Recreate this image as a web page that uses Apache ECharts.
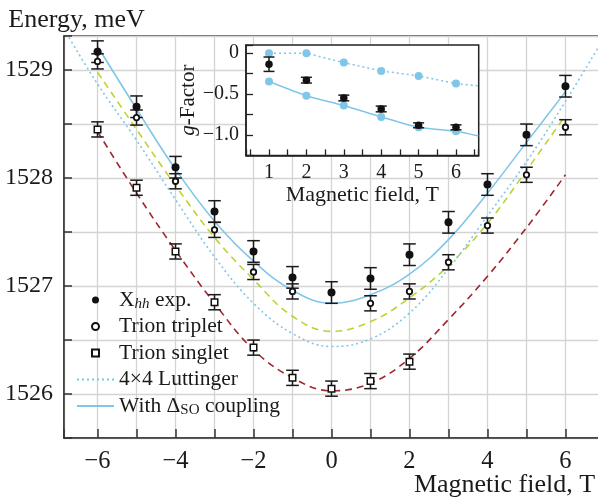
<!DOCTYPE html>
<html>
<head>
<meta charset="utf-8">
<script src="https://cdn.jsdelivr.net/npm/echarts@6/dist/echarts.min.js"></script>
<style>html,body{margin:0;padding:0;background:#fff}#c{width:598px;height:504px}</style>
</head>
<body>
<div id="c"></div>
<script>
// ---- Data ----
const fieldX = [-6, -5, -4, -3, -2, -1, 0, 1, 2, 3, 4, 5, 6];
const xhhE = [1529.17, 1528.66, 1528.10, 1527.69, 1527.32, 1527.08, 1526.94, 1527.07, 1527.29, 1527.59, 1527.94, 1528.40, 1528.85];
const xhhErr = [0.1, 0.1, 0.1, 0.1, 0.1, 0.1, 0.1, 0.1, 0.1, 0.1, 0.1, 0.1, 0.1];

const tripX = [-6, -5, -4, -3, -2, -1, 1, 2, 3, 4, 5, 6];
const tripE = [1529.08, 1528.56, 1527.97, 1527.52, 1527.13, 1526.95, 1526.84, 1526.95, 1527.22, 1527.56, 1528.03, 1528.47];
const tripErr = [0.07, 0.07, 0.07, 0.07, 0.07, 0.07, 0.07, 0.07, 0.07, 0.07, 0.07, 0.07];

const singX = [-6, -5, -4, -3, -2, -1, 0, 1, 2];
const singE = [1528.45, 1527.91, 1527.32, 1526.85, 1526.43, 1526.15, 1526.05, 1526.12, 1526.30];
const singErr = [0.07, 0.07, 0.07, 0.07, 0.07, 0.07, 0.07, 0.07, 0.07];

const curveX = [-6, -5, -4, -3, -2, -1, 0, 1, 2, 3, 4, 5, 6];
const soCurveE = [1529.22, 1528.64, 1528.08, 1527.60, 1527.23, 1526.96, 1526.84, 1526.92, 1527.11, 1527.43, 1527.86, 1528.33, 1528.80];
const tripCurveE = [1528.98, 1528.45, 1527.93, 1527.45, 1527.06, 1526.72, 1526.58, 1526.67, 1526.89, 1527.19, 1527.58, 1528.07, 1528.58];
const singCurveE = [1528.43, 1527.86, 1527.33, 1526.84, 1526.41, 1526.15, 1526.03, 1526.10, 1526.33, 1526.69, 1527.09, 1527.54, 1528.03];
const luttX = [-6.86, -6, -5, -4, -3, -2, -1, 0, 1, 2, 3, 4, 5, 6, 6.86];
const luttE = [1529.38, 1528.87, 1528.35, 1527.80, 1527.27, 1526.84, 1526.56, 1526.44, 1526.51, 1526.75, 1527.16, 1527.65, 1528.15, 1528.71, 1529.22];

// inset: g-factor
const gX = [1, 2, 3, 4, 5, 6];
const gLutt = [0, 0, -0.115, -0.217, -0.278, -0.372];
const gLuttEdge = [6.6, -0.40];
const gSO = [-0.347, -0.52, -0.64, -0.78, -0.907, -0.956];
const gSOEdge = [6.6, -1.013];
const gExp = [-0.135, -0.33, -0.548, -0.682, -0.882, -0.907];
const gExpErr = [0.088, 0.035, 0.035, 0.035, 0.03, 0.03];

const legendNames = ['Xhh exp.', 'Trion triplet', 'Trion singlet', '4×4 Luttinger', 'With ΔSO coupling'];

// ---- helpers ----
const FONT = "'Liberation Serif', 'DejaVu Serif', serif";
const BLUE = '#80c6e8', GREEN = '#bcd42c', RED = '#a1262d', INK = '#1a1a1a', GRID = '#d4d4d4';
const pairs = (xa, ya) => xa.map((x, i) => [x, ya[i]]);
const errData = (xa, ya, ea) => xa.map((x, i) => [x, ya[i] - ea[i], ya[i] + ea[i]]);
const minus = s => String(s).replace('-', '\u2212');
const isInt = v => Math.abs(v - Math.round(v)) < 1e-6;

function errBar(capHalf) {
  return function (params, api) {
    const x = api.value(0);
    const lo = api.coord([x, api.value(1)]);
    const hi = api.coord([x, api.value(2)]);
    const st = { stroke: INK, lineWidth: 1.5 };
    return { type: 'group', children: [
      { type: 'line', shape: { x1: lo[0], y1: lo[1], x2: hi[0], y2: hi[1] }, style: st },
      { type: 'line', shape: { x1: lo[0] - capHalf, y1: lo[1], x2: lo[0] + capHalf, y2: lo[1] }, style: st },
      { type: 'line', shape: { x1: hi[0] - capHalf, y1: hi[1], x2: hi[0] + capHalf, y2: hi[1] }, style: st }
    ]};
  };
}

const chart = echarts.init(document.getElementById('c'), null, { renderer: 'canvas' });

const hiddenSymbol = { opacity: 0, borderWidth: 0 };

const option = {
  backgroundColor: '#fff',
  animation: false,
  textStyle: { fontFamily: FONT, color: INK },
  grid: [
    { left: 64, top: 36, width: 535, height: 402, show: true, borderColor: '#333', borderWidth: 1.5, backgroundColor: 'transparent',
      containLabel: false, outerBoundsMode: 'none' },
    { left: 246, top: 45, width: 232.7, height: 110.4, show: true, borderColor: '#222', borderWidth: 1.5, backgroundColor: '#fff', z: 5,
      containLabel: false, outerBoundsMode: 'none' }
  ],
  xAxis: [
    {
      type: 'value', gridIndex: 0, min: -6.86, max: 6.86, splitNumber: 14,
      axisLine: { show: true, onZero: false, lineStyle: { color: '#333', width: 1.5 } },
      axisTick: { show: true, inside: true, length: 9, lineStyle: { color: '#333', width: 1.5 } },
      axisLabel: { fontSize: 24.5, fontFamily: FONT, color: INK, margin: 11,
        formatter: v => (isInt(v) && Math.round(v) % 2 === 0) ? minus(Math.round(v)) : '' },
      splitLine: { show: true, lineStyle: { color: GRID, width: 1.3 } },
      name: 'Magnetic field, T', nameLocation: 'middle', nameGap: 34, nameMoveOverlap: false,
      nameTextStyle: { fontSize: 26, fontFamily: FONT, color: INK, align: 'center', verticalAlign: 'top', padding: [0, 0, 0, 346] }
    },
    {
      type: 'value', gridIndex: 1, min: 0.385, max: 6.607, splitNumber: 12, z: 6,
      axisLine: { show: true, onZero: false, lineStyle: { color: '#222', width: 1.5 } },
      axisTick: { show: true, inside: true, length: 6, lineStyle: { color: '#222', width: 1.3 } },
      axisLabel: { fontSize: 20, fontFamily: FONT, color: INK, margin: 7,
        formatter: v => isInt(v) ? String(Math.round(v)) : '' },
      splitLine: { show: false },
      name: 'Magnetic field, T', nameLocation: 'middle', nameGap: 29, nameMoveOverlap: false,
      nameTextStyle: { fontSize: 22, fontFamily: FONT, color: INK }
    }
  ],
  yAxis: [
    {
      type: 'value', gridIndex: 0, min: 1525.593, max: 1529.315, splitNumber: 7,
      axisLine: { show: true, onZero: false, lineStyle: { color: '#333', width: 1.5 } },
      axisTick: { show: true, inside: true, length: 8, lineStyle: { color: '#333', width: 1.5 } },
      axisLabel: { fontSize: 24, fontFamily: FONT, color: INK, margin: 11,
        formatter: v => isInt(v) ? String(Math.round(v)) : '' },
      splitLine: { show: true, lineStyle: { color: GRID, width: 1.3 } },
      name: 'Energy, meV', nameLocation: 'end', nameGap: 3,
      nameTextStyle: { fontSize: 26, fontFamily: FONT, color: INK, align: 'center', padding: [0, 0, 0, 25] }
    },
    {
      type: 'value', gridIndex: 1, min: -1.25, max: 0.1, interval: 0.25, z: 6,
      axisLine: { show: true, onZero: false, lineStyle: { color: '#222', width: 1.5 } },
      axisTick: { show: true, inside: true, length: 7, lineStyle: { color: '#222', width: 1.3 } },
      axisLabel: { fontSize: 20, fontFamily: FONT, color: INK, margin: 7,
        formatter: v => {
          if (Math.abs(v) < 1e-6) return '0';
          if (Math.abs(v + 0.5) < 1e-6) return '\u22120.5';
          if (Math.abs(v + 1) < 1e-6) return '\u22121.0';
          return '';
        } },
      splitLine: { show: false },
      name: '{i|g}-Factor', nameLocation: 'middle', nameGap: 47,
      nameTextStyle: { fontSize: 21, fontFamily: FONT, color: INK,
        rich: { i: { fontSize: 21, fontFamily: FONT, fontStyle: 'italic', color: INK } } }
    }
  ],
  legend: {
    orient: 'vertical', left: 76, top: 288, padding: 0, itemWidth: 37, itemHeight: 7, itemGap: 2.5,
    data: [
      { name: legendNames[0] },
      { name: legendNames[1] },
      { name: legendNames[2], icon: 'path://M0 0H10V10H0Z' },
      { name: legendNames[3], itemStyle: hiddenSymbol },
      { name: legendNames[4], itemStyle: hiddenSymbol }
    ],
    textStyle: { fontSize: 21.5, fontFamily: FONT, color: INK, lineHeight: 22,
      rich: {
        n: { fontSize: 21.5, fontFamily: FONT, color: INK, lineHeight: 24 },
        si: { fontSize: 15, fontFamily: FONT, fontStyle: 'italic', color: INK, verticalAlign: 'bottom', lineHeight: 15 },
        s: { fontSize: 15, fontFamily: FONT, color: INK, verticalAlign: 'bottom', lineHeight: 15 }
      } },
    formatter: name => {
      if (name === 'Xhh exp.') return '{n|X}{si|hh}{n| exp.}';
      if (name === 'With ΔSO coupling') return '{n|With Δ}{s|SO}{n| coupling}';
      return '{n|' + name + '}';
    }
  },
  series: [
    // main curves
    { name: 'Singlet fit', type: 'line', xAxisIndex: 0, yAxisIndex: 0, data: pairs(curveX, singCurveE), smooth: 0.4, symbol: 'none',
      lineStyle: { color: RED, width: 1.6, type: [7, 5] }, z: 2 },
    { name: 'Triplet fit', type: 'line', xAxisIndex: 0, yAxisIndex: 0, data: pairs(curveX, tripCurveE), smooth: 0.4, symbol: 'none',
      lineStyle: { color: GREEN, width: 1.6, type: [7, 5] }, z: 2 },
    { name: '4×4 Luttinger', type: 'line', xAxisIndex: 0, yAxisIndex: 0, data: pairs(luttX, luttE), smooth: 0.4, symbol: 'none',
      itemStyle: { color: BLUE }, lineStyle: { color: BLUE, width: 1.6, type: [2, 3] }, z: 2 },
    { name: 'With ΔSO coupling', type: 'line', xAxisIndex: 0, yAxisIndex: 0, data: pairs(curveX, soCurveE), smooth: 0.4, symbol: 'none',
      itemStyle: { color: BLUE }, lineStyle: { color: BLUE, width: 1.6 }, z: 2 },
    // error bars
    { name: 'Xhh err', type: 'custom', xAxisIndex: 0, yAxisIndex: 0, renderItem: errBar(6.3), data: errData(fieldX, xhhE, xhhErr), encode: { x: 0, y: [1, 2] }, z: 3, silent: true },
    { name: 'Trip err', type: 'custom', xAxisIndex: 0, yAxisIndex: 0, renderItem: errBar(6.3), data: errData(tripX, tripE, tripErr), encode: { x: 0, y: [1, 2] }, z: 3, silent: true },
    { name: 'Sing err', type: 'custom', xAxisIndex: 0, yAxisIndex: 0, renderItem: errBar(6.3), data: errData(singX, singE, singErr), encode: { x: 0, y: [1, 2] }, z: 3, silent: true },
    // markers
    { name: 'Xhh exp.', type: 'scatter', xAxisIndex: 0, yAxisIndex: 0, data: pairs(fieldX, xhhE), symbol: 'circle', symbolSize: 8,
      itemStyle: { color: '#111', opacity: 1 }, z: 4 },
    { name: 'Trion triplet', type: 'scatter', xAxisIndex: 0, yAxisIndex: 0, data: pairs(tripX, tripE), symbol: 'circle', symbolSize: 5.5,
      itemStyle: { color: '#fff', borderColor: '#111', borderWidth: 1.8, opacity: 1 }, z: 4 },
    { name: 'Trion singlet', type: 'scatter', xAxisIndex: 0, yAxisIndex: 0, data: pairs(singX, singE), symbol: 'rect', symbolSize: 6.5,
      itemStyle: { color: '#fff', borderColor: '#111', borderWidth: 1.5, opacity: 1 }, z: 4 },
    // inset
    { name: 'g Luttinger', type: 'line', xAxisIndex: 1, yAxisIndex: 1, data: pairs(gX, gLutt).concat([gLuttEdge]), symbol: 'none',
      lineStyle: { color: BLUE, width: 1.5, type: [2, 3] }, z: 7 },
    { name: 'g SO', type: 'line', xAxisIndex: 1, yAxisIndex: 1, data: pairs(gX, gSO).concat([gSOEdge]), smooth: 0.2, symbol: 'none',
      lineStyle: { color: BLUE, width: 1.5 }, z: 7 },
    { name: 'g Luttinger dots', type: 'scatter', xAxisIndex: 1, yAxisIndex: 1, data: pairs(gX, gLutt), symbol: 'circle', symbolSize: 8,
      itemStyle: { color: BLUE, opacity: 1 }, z: 8 },
    { name: 'g SO dots', type: 'scatter', xAxisIndex: 1, yAxisIndex: 1, data: pairs(gX, gSO), symbol: 'circle', symbolSize: 8,
      itemStyle: { color: BLUE, opacity: 1 }, z: 8 },
    { name: 'g err', type: 'custom', xAxisIndex: 1, yAxisIndex: 1, renderItem: errBar(5.5), data: errData(gX, gExp, gExpErr), encode: { x: 0, y: [1, 2] }, z: 9, silent: true },
    { name: 'g exp', type: 'scatter', xAxisIndex: 1, yAxisIndex: 1, data: pairs(gX, gExp), symbol: 'circle', symbolSize: 7.5,
      itemStyle: { color: '#111', opacity: 1 }, z: 10 }
  ]
};
chart.setOption(option);
</script>
</body>
</html>
